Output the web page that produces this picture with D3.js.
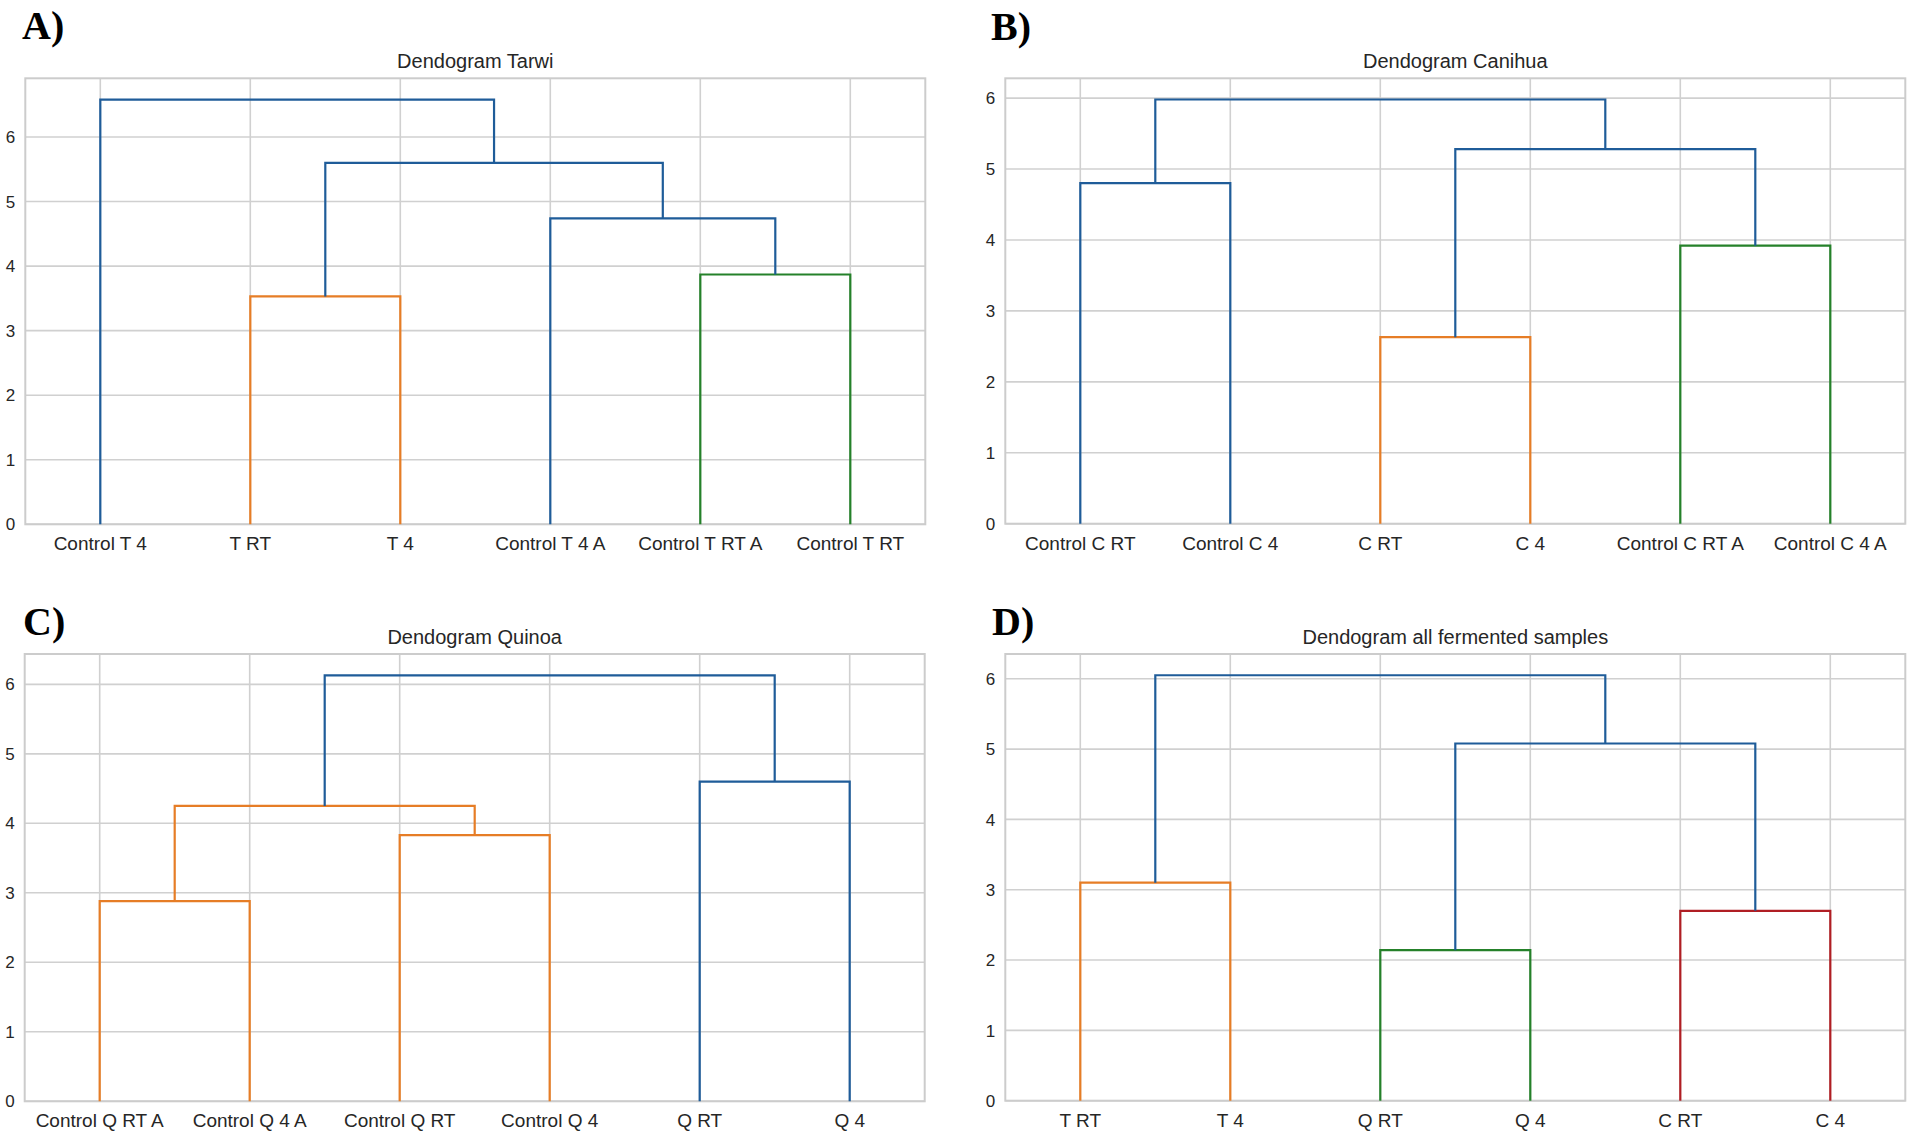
<html>

<head>
	<meta charset="UTF-8">
	<title>Dendograms</title>
	<script src="https://cdn.jsdelivr.net/npm/d3@7"></script>
	<style>
		body {
			padding: 0;
			margin: 0;
			background: #fff;
		}
		text {
			font-family: "Liberation Sans", Arial, sans-serif;
		}
	</style>
</head>

<body>
	<script>
		var w = 1908,
			h = 1136;

		// leaves in dendrogram order, links as [childA, childB, height, colour]
		// (children < 6 are leaves, 6+ are earlier links, scipy style)
		var tarwiLeaves = ["Control T 4", "T RT", "T 4", "Control T 4 A", "Control T RT A", "Control T RT"];
		var tarwiLinks = [
			[1, 2, 3.53, "C1"],
			[4, 5, 3.87, "C2"],
			[3, 7, 4.74, "C0"],
			[6, 8, 5.60, "C0"],
			[0, 9, 6.58, "C0"]
		];

		var canihuaLeaves = ["Control C RT", "Control C 4", "C RT", "C 4", "Control C RT A", "Control C 4 A"];
		var canihuaLinks = [
			[2, 3, 2.63, "C1"],
			[4, 5, 3.92, "C2"],
			[0, 1, 4.80, "C0"],
			[6, 7, 5.28, "C0"],
			[8, 9, 5.98, "C0"]
		];

		var quinoaLeaves = ["Control Q RT A", "Control Q 4 A", "Control Q RT", "Control Q 4", "Q RT", "Q 4"];
		var quinoaLinks = [
			[0, 1, 2.88, "C1"],
			[2, 3, 3.83, "C1"],
			[6, 7, 4.25, "C1"],
			[4, 5, 4.60, "C0"],
			[8, 9, 6.13, "C0"]
		];

		var allLeaves = ["T RT", "T 4", "Q RT", "Q 4", "C RT", "C 4"];
		var allLinks = [
			[2, 3, 2.14, "C2"],
			[4, 5, 2.70, "C3"],
			[0, 1, 3.10, "C1"],
			[6, 7, 5.08, "C0"],
			[9, 8, 6.05, "C0"]
		];

		var yTicks = [0, 1, 2, 3, 4, 5, 6];

		var colors = {
			C0: "#1f5c99",
			C1: "#e67d26",
			C2: "#25812a",
			C3: "#b01e24"
		};

		var panels = [
			{ letter: "A)", title: "Dendogram Tarwi", leaves: tarwiLeaves, links: tarwiLinks,
				x0: 25.3, x1: 925.3, top: 78.3, bottom: 524.3, lx: 22, ly: 39 },
			{ letter: "B)", title: "Dendogram Canihua", leaves: canihuaLeaves, links: canihuaLinks,
				x0: 1005.3, x1: 1905.3, top: 78.3, bottom: 523.7, lx: 991, ly: 40 },
			{ letter: "C)", title: "Dendogram Quinoa", leaves: quinoaLeaves, links: quinoaLinks,
				x0: 24.7, x1: 924.7, top: 654, bottom: 1101.3, lx: 23, ly: 635 },
			{ letter: "D)", title: "Dendogram all fermented samples", leaves: allLeaves, links: allLinks,
				x0: 1005.3, x1: 1905.3, top: 654, bottom: 1100.7, lx: 992, ly: 635 }
		];

		var svg = d3.select("body").append("svg")
			.attr("width", w)
			.attr("height", h);

		function drawPanel(p) {
			var n = p.leaves.length;
			var maxH = d3.max(p.links, function (d) { return d[2]; });

			// scipy places leaves at 5, 15, 25 ... and ylim at 1.05 * max height
			var x = d3.scaleLinear().domain([0, n * 10]).range([p.x0, p.x1]);
			var y = d3.scaleLinear().domain([0, maxH * 1.05]).range([p.bottom, p.top]);

			var g = svg.append("g");

			// grid
			g.selectAll(".hgrid").data(yTicks).enter().append("line")
				.attr("x1", p.x0).attr("x2", p.x1)
				.attr("y1", function (d) { return y(d); })
				.attr("y2", function (d) { return y(d); })
				.attr("stroke", "#d0d0d0").attr("stroke-width", 1.6);

			g.selectAll(".vgrid").data(p.leaves).enter().append("line")
				.attr("x1", function (d, i) { return x(5 + 10 * i); })
				.attr("x2", function (d, i) { return x(5 + 10 * i); })
				.attr("y1", p.top).attr("y2", p.bottom)
				.attr("stroke", "#d0d0d0").attr("stroke-width", 1.6);

			// frame
			g.append("rect")
				.attr("x", p.x0).attr("y", p.top)
				.attr("width", p.x1 - p.x0).attr("height", p.bottom - p.top)
				.attr("fill", "none").attr("stroke", "#cccccc").attr("stroke-width", 2);

			// y axis labels
			g.selectAll(".ytick").data(yTicks).enter().append("text")
				.attr("x", p.x0 - 10)
				.attr("y", function (d) { return y(d); })
				.attr("dy", "0.36em")
				.attr("text-anchor", "end")
				.attr("font-size", 17)
				.attr("fill", "#262626")
				.text(function (d) { return d; });

			// leaf labels
			g.selectAll(".leaf").data(p.leaves).enter().append("text")
				.attr("x", function (d, i) { return x(5 + 10 * i); })
				.attr("y", p.bottom + 26)
				.attr("text-anchor", "middle")
				.attr("font-size", 19)
				.attr("fill", "#262626")
				.text(function (d) { return d; });

			// title and panel letter
			g.append("text")
				.attr("x", (p.x0 + p.x1) / 2)
				.attr("y", p.top - 10)
				.attr("text-anchor", "middle")
				.attr("font-size", 20)
				.attr("fill", "#262626")
				.text(p.title);

			g.append("text")
				.attr("x", p.lx)
				.attr("y", p.ly)
				.style("font-family", "'Liberation Serif', 'Times New Roman', serif")
				.attr("font-weight", "bold")
				.attr("font-size", 40)
				.attr("fill", "#000")
				.text(p.letter);

			// node positions: leaves then links
			var pos = p.leaves.map(function (d, i) { return { x: 5 + 10 * i, h: 0 }; });
			p.links.forEach(function (l) {
				var a = pos[l[0]], b = pos[l[1]];
				l.path = [[a.x, a.h], [a.x, l[2]], [b.x, l[2]], [b.x, b.h]];
				pos.push({ x: (a.x + b.x) / 2, h: l[2] });
			});

			var line = d3.line()
				.x(function (d) { return x(d[0]); })
				.y(function (d) { return y(d[1]); });

			g.selectAll(".link").data(p.links).enter().append("path")
				.attr("d", function (d) { return line(d.path); })
				.attr("fill", "none")
				.attr("stroke", function (d) { return colors[d[3]]; })
				.attr("stroke-width", 2.2);
		}

		panels.forEach(drawPanel);
	</script>

</body>

</html>
